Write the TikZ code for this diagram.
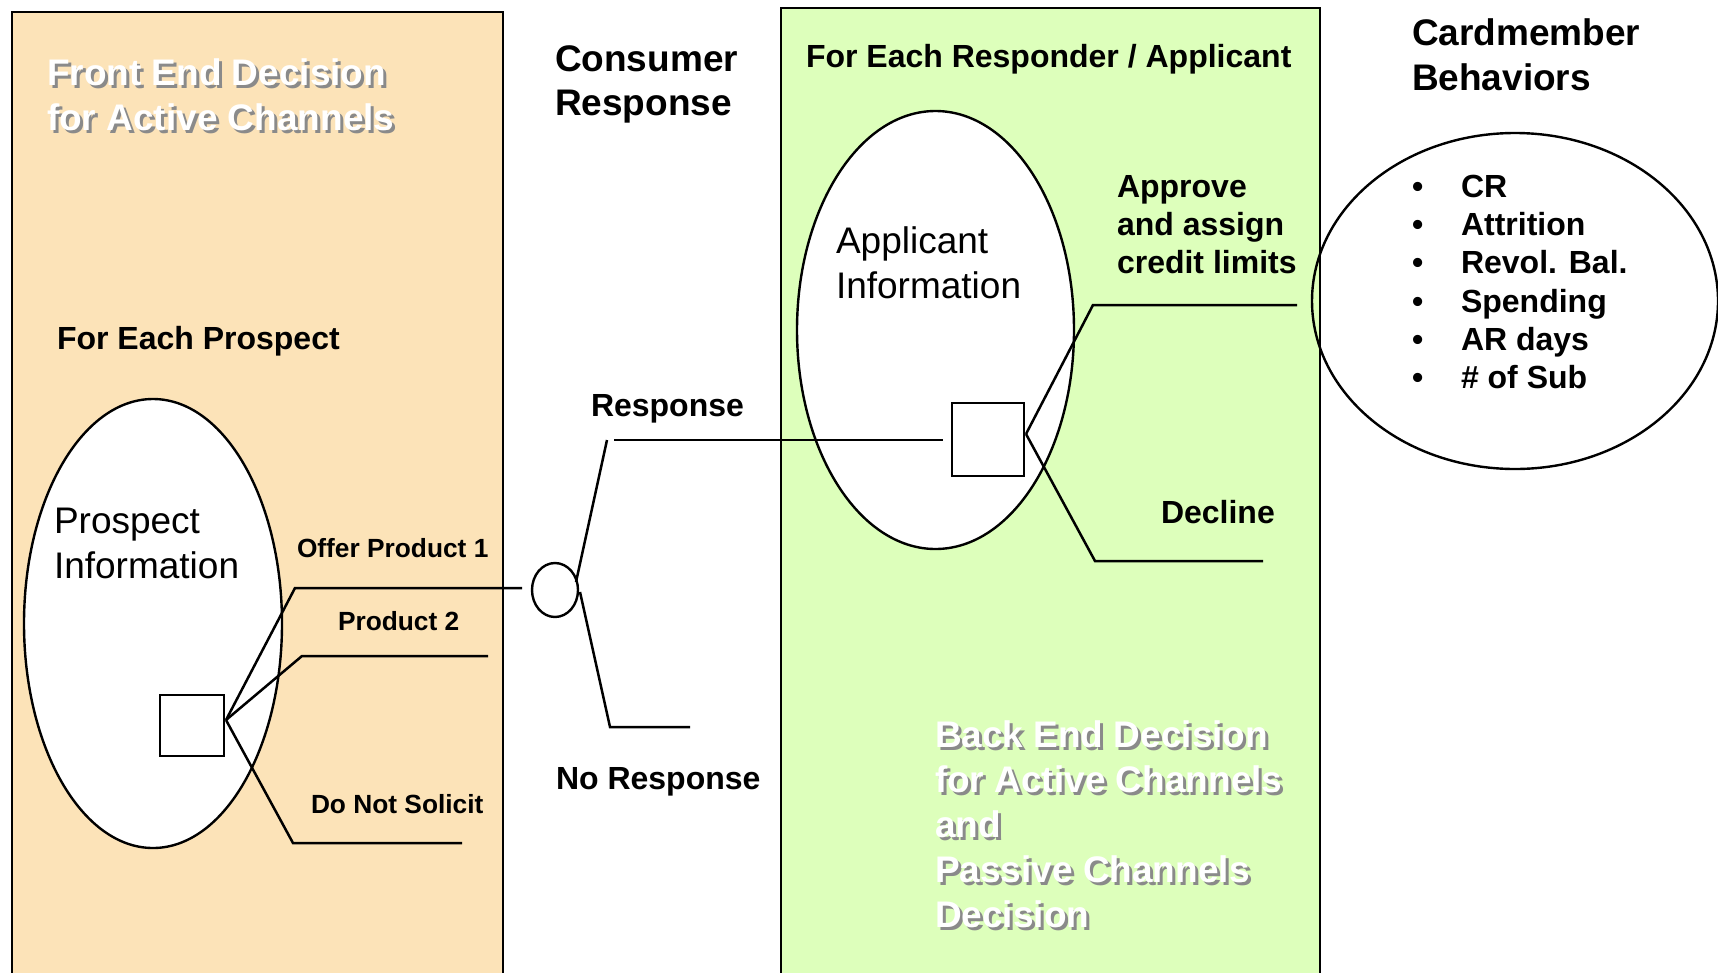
\documentclass[tikz,border=0pt]{standalone}
\usepackage{fontspec}
\setmainfont{Liberation Sans}
\usetikzlibrary{shapes.geometric}

\definecolor{tanfill}{RGB}{252,227,184}
\definecolor{limefill}{RGB}{221,255,187}
\definecolor{shadowgrey}{RGB}{138,138,138}

\tikzset{
  panel/.style={draw=black, line width=2.5pt},
  oval/.style={ellipse, draw=black, line width=2.4pt, inner sep=0pt},
  choice/.style={rectangle, draw=black, line width=2.4pt, fill=white, inner sep=0pt},
  branch/.style={line width=2.5pt},
  txt/.style={anchor=base west, inner sep=0pt, outer sep=0pt},
  title/.style={txt, font=\fontsize{37}{44}\selectfont\bfseries},
  head/.style={txt, font=\fontsize{32}{38}\selectfont\bfseries},
  small/.style={txt, font=\fontsize{26.3}{30}\selectfont\bfseries},
  info/.style={txt, font=\fontsize{37}{44}\selectfont},
  embossed/.style={txt, font=\fontsize{37}{45}\selectfont\bfseries, text=white},
  embshadow/.style={embossed, text=shadowgrey},
}

% white lettering with a grey drop shadow
\newcommand\embtext[4]{%
  \node[embshadow] (#1-s) at (#2+3,#3+3) {#4};
  \node[embossed] (#1) at (#2,#3) {#4};}

\begin{document}
\begin{tikzpicture}[x=1pt, y=-1pt]
\useasboundingbox (0,0) rectangle (1718,972);

% the two decision panels
\path[panel, fill=tanfill] (12,12) rectangle (503,1000);
\path[panel, fill=limefill] (781,8) rectangle (1320,1000);

% information sets and outcome set
\node[oval, fill=white, minimum width=258, minimum height=449] (prospect) at (153,623.5) {};
\node[oval, fill=white, minimum width=277, minimum height=438] (applicant) at (935.5,330) {};
\node[oval, minimum width=406, minimum height=336] (behav) at (1515,301) {};

% decision nodes and chance node
\node[choice, minimum width=64, minimum height=61] (dec1) at (192,725.5) {};
\node[choice, minimum width=72, minimum height=73] (dec2) at (988,439.5) {};
\node[oval, fill=white, minimum width=46, minimum height=54] (chance) at (555,590) {};

% branch points
\coordinate (j1) at (226,720);
\coordinate (b1) at (295,588);  \coordinate (e1) at (522,588);
\coordinate (b2) at (302,656);  \coordinate (e2) at (488,656);
\coordinate (b3) at (293,843);  \coordinate (e3) at (462,843);
\coordinate (c1) at (576,582);  \coordinate (t1) at (607,440);
\coordinate (h1) at (614,440);  \coordinate (h1e) at (943,440);
\coordinate (c2) at (580,592);  \coordinate (t2) at (610,727);
\coordinate (h2) at (613,727);  \coordinate (h2e) at (690,727);
\coordinate (j2) at (1026,434);
\coordinate (b4) at (1093,305); \coordinate (e4) at (1297,305);
\coordinate (b5) at (1095,561); \coordinate (e5) at (1263,561);

% front-end branches
\draw[branch] (j1) -- (b1) -- (e1);
\draw[branch] (j1) -- (b2) -- (e2);
\draw[branch] (j1) -- (b3) -- (e3);
% consumer response branches
\draw[branch] (c1) -- (t1);
\draw[branch] (h1) -- (h1e);
\draw[branch] (c2) -- (t2) -- (h2e);
% back-end branches
\draw[branch] (j2) -- (b4) -- (e4);
\draw[branch] (j2) -- (b5) -- (e5);

% panel captions
\embtext{fe1}{47}{85}{Front End Decision}
\embtext{fe2}{47}{130}{for Active Channels}
\embtext{be1}{935}{747}{Back End Decision}
\embtext{be2}{935}{792}{for Active Channels}
\embtext{be3}{935}{837}{and}
\embtext{be4}{935}{882}{Passive Channels}
\embtext{be5}{935}{927}{Decision}

% column headings
\node[title] (cons1) at (555,71) {Consumer};
\node[title] (cons2) at (555,115) {Response};
\node[title] (card1) at (1412,45) {Cardmember};
\node[title] (card2) at (1412,90) {Behaviors};
\node[head] (eachp) at (57,349) {For Each Prospect};
\node[head] (eachr) at (806,67) {For Each Responder / Applicant};

% information set labels
\node[info] (pi1) at (54,533) {Prospect};
\node[info] (pi2) at (54,578) {Information};
\node[info] (ai1) at (836,253) {Applicant};
\node[info] (ai2) at (836,298) {Information};

% branch labels
\node[small] (offer) at (297,557) {Offer Product 1};
\node[small] (prod2) at (338,630) {Product 2};
\node[small] (dns) at (311,813) {Do Not Solicit};
\node[head] (resp) at (591,416) {Response};
\node[head] (noresp) at (556,789) {No Response};
\node[head] (appr1) at (1117,197) {Approve};
\node[head] (appr2) at (1117,235) {and assign};
\node[head] (appr3) at (1117,273) {credit limits};
\node[head] (decl) at (1161,523) {Decline};

% behaviour list
\foreach \y/\item [count=\i] in {197/CR, 235.3/Attrition, 273.6/Revol. Bal., 312/Spending, 350.3/AR days, 388.6/\# of Sub}{
  \node[head] (dot\i) at (1412,\y) {•};
  \node[head] (item\i) at (1461,\y) {\item};
}
\end{tikzpicture}
\end{document}
